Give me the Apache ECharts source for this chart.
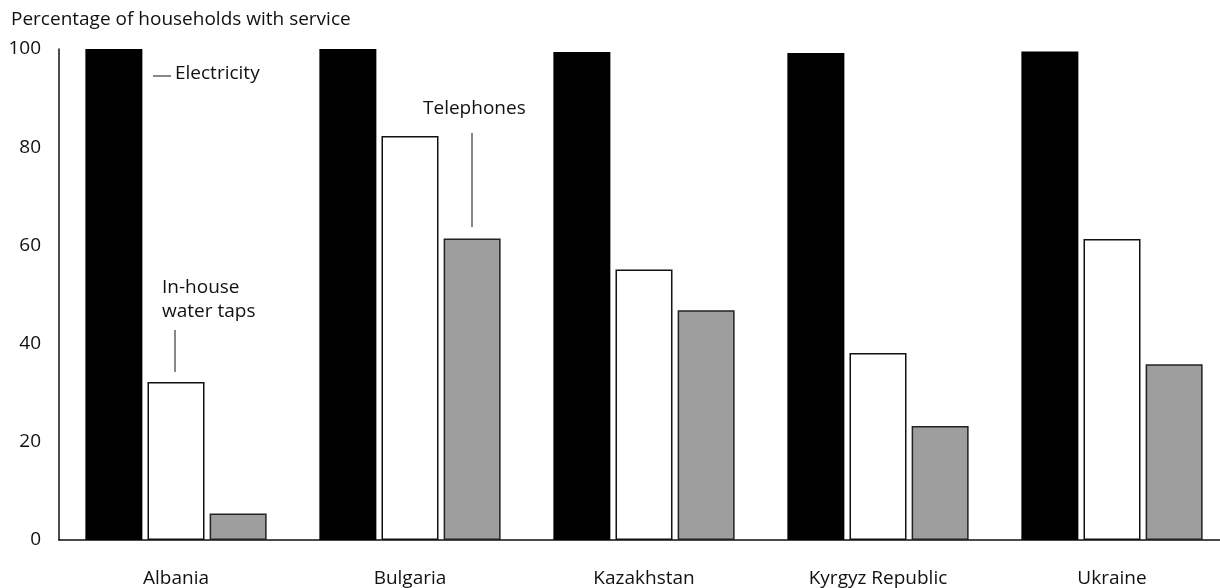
<!DOCTYPE html>
<html>
<head>
<meta charset="utf-8">
<script src="https://cdn.jsdelivr.net/npm/echarts@6/dist/echarts.min.js"></script>
<style>
  html, body { margin: 0; padding: 0; background: #fff; }
  #main { width: 1220px; height: 588px; }
</style>
</head>
<body>
<div id="main"></div>
<script>
var countries = ["Albania", "Bulgaria", "Kazakhstan", "Kyrgyz Republic", "Ukraine"];
var electricity = [100, 100, 99.4, 99.2, 99.5];
var waterTaps = [32.2, 82.3, 55.1, 38.1, 61.3];
var telephones = [5.4, 61.4, 46.8, 23.2, 35.8];
var yTicks = [0, 20, 40, 60, 80, 100];

var font = "'Open Sans', 'Noto Sans', sans-serif";
var chart = echarts.init(document.getElementById("main"));

var option = {
  animation: false,
  textStyle: { fontFamily: font, color: "#111" },
  title: {
    text: "Percentage of households with service",
    left: 6,
    top: 5,
    textStyle: { fontFamily: font, fontSize: 19, fontWeight: 500, color: "#111" }
  },
  // the last category runs past the right edge of the picture
  grid: { left: 59, width: 1170, top: 49, bottom: 48, outerBoundsMode: "none" },
  xAxis: {
    type: "category",
    data: countries,
    axisLine: { lineStyle: { color: "#111", width: 1.5 } },
    axisTick: { show: false },
    axisLabel: { margin: 29, fontSize: 19, fontWeight: 500, color: "#111", fontFamily: font }
  },
  yAxis: {
    type: "value",
    min: yTicks[0],
    max: yTicks[yTicks.length - 1],
    interval: 20,
    axisLine: { show: true, lineStyle: { color: "#111", width: 1.5 } },
    axisTick: { show: false },
    splitLine: { show: false },
    axisLabel: { margin: 18, fontSize: 19, fontWeight: 500, color: "#111", fontFamily: font }
  },
  series: [
    {
      name: "Electricity",
      type: "bar",
      data: electricity,
      barWidth: 57,
      barGap: "9%",
      itemStyle: { color: "#000" }
    },
    {
      name: "In-house water taps",
      type: "bar",
      data: waterTaps,
      barWidth: 57,
      barGap: "9%",
      itemStyle: { color: "#fff", borderColor: "#111", borderWidth: 1.5 }
    },
    {
      name: "Telephones",
      type: "bar",
      data: telephones,
      barWidth: 57,
      barGap: "9%",
      itemStyle: { color: "#9e9e9e", borderColor: "#222", borderWidth: 1.5 }
    }
  ],
  graphic: [
    // Electricity label
    { type: "line", shape: { x1: 153, y1: 76, x2: 171, y2: 76 }, style: { stroke: "#111", lineWidth: 1 } },
    { type: "text", left: 175, top: 64, style: { text: "Electricity", font: "500 19px " + font, fill: "#111" } },
    // In-house water taps label
    { type: "text", left: 162, top: 276, style: { text: "In-house\nwater taps", font: "500 19px " + font, fill: "#111", lineHeight: 24 } },
    { type: "line", shape: { x1: 175, y1: 330, x2: 175, y2: 372 }, style: { stroke: "#111", lineWidth: 1 } },
    // Telephones label
    { type: "text", left: 423, top: 99, style: { text: "Telephones", font: "500 19px " + font, fill: "#111" } },
    { type: "line", shape: { x1: 472, y1: 133, x2: 472, y2: 227 }, style: { stroke: "#111", lineWidth: 1 } }
  ]
};

chart.setOption(option);
</script>
</body>
</html>
